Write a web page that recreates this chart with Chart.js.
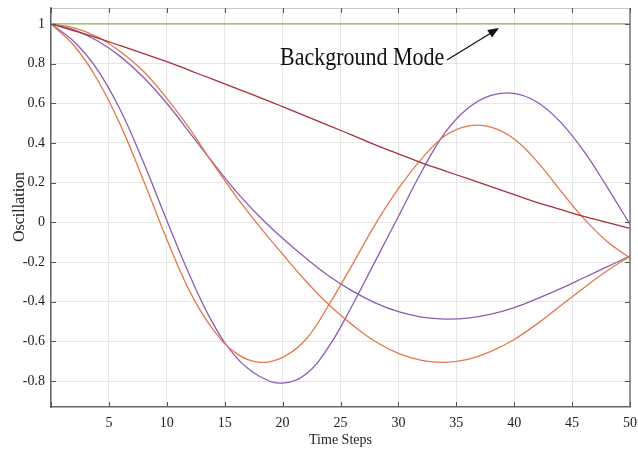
<!DOCTYPE html>
<html>
<head>
<meta charset="utf-8">
<script src="https://cdn.jsdelivr.net/npm/chart.js@4.4.1/dist/chart.umd.min.js"></script>
<style>
  html, body { margin: 0; padding: 0; background: #ffffff; }
  #chart { display: block; }
</style>
</head>
<body>
<canvas id="chart" width="638" height="449"></canvas>
<script>
const timeSteps = [0, 2, 4, 6, 8, 10, 12, 14, 16, 18, 20, 22, 24, 26, 28, 30, 32, 34, 36, 38, 40, 42, 44, 46, 48, 50];

const backgroundMode = [1, 1, 1, 1, 1, 1, 1, 1, 1, 1, 1, 1, 1, 1, 1, 1, 1, 1, 1, 1, 1, 1, 1, 1, 1, 1];
const slowRed = [1, 0.965, 0.93, 0.89, 0.85, 0.81, 0.765, 0.72, 0.675, 0.63, 0.583, 0.535, 0.487, 0.44, 0.39, 0.345, 0.30, 0.26, 0.22, 0.18, 0.14, 0.10, 0.065, 0.03, 0.0, -0.03];
const slowOrange = [1, 0.98, 0.935, 0.86, 0.76, 0.625, 0.47, 0.295, 0.13, -0.02, -0.16, -0.295, -0.415, -0.515, -0.60, -0.66, -0.695, -0.705, -0.69, -0.65, -0.59, -0.51, -0.42, -0.33, -0.245, -0.17];
const slowPurple = [1, 0.97, 0.915, 0.835, 0.73, 0.60, 0.45, 0.30, 0.155, 0.03, -0.08, -0.18, -0.27, -0.345, -0.405, -0.45, -0.477, -0.487, -0.482, -0.462, -0.429, -0.384, -0.334, -0.279, -0.224, -0.17];
const fastOrange = [1, 0.89, 0.72, 0.49, 0.21, -0.085, -0.35, -0.54, -0.66, -0.705, -0.68, -0.59, -0.415, -0.215, -0.01, 0.17, 0.32, 0.435, 0.485, 0.48, 0.42, 0.305, 0.16, 0.02, -0.095, -0.18];
const fastPurple = [1, 0.91, 0.77, 0.565, 0.30, 0.01, -0.27, -0.51, -0.68, -0.775, -0.81, -0.765, -0.625, -0.42, -0.195, 0.03, 0.255, 0.45, 0.575, 0.64, 0.65, 0.605, 0.505, 0.36, 0.18, -0.01];

const xTicks = [0, 5, 10, 15, 20, 25, 30, 35, 40, 45, 50];
const yTicks = [-0.8, -0.6, -0.4, -0.2, 0, 0.2, 0.4, 0.6, 0.8, 1];

const FONT = "'Liberation Serif', 'Times New Roman', serif";

function toPoints(values) {
  return values.map((v, i) => ({ x: timeSteps[i], y: v }));
}

function makeSeries(values, color) {
  return {
    data: toPoints(values),
    borderColor: color,
    borderWidth: 1.3,
    pointRadius: 0,
    tension: 0.4,
    fill: false
  };
}

// MATLAB style box with inward ticks, axis titles and the arrow note
const decorations = {
  id: "decorations",
  afterDraw(chart) {
    const { ctx, chartArea, scales } = chart;
    const { left, right, top, bottom } = chartArea;
    ctx.save();

    ctx.strokeStyle = "#c8c8c8";
    ctx.lineWidth = 1;
    ctx.beginPath();
    ctx.moveTo(left, top + 0.5);
    ctx.lineTo(right, top + 0.5);
    ctx.stroke();

    ctx.strokeStyle = "#777";
    ctx.lineWidth = 1.5;
    ctx.beginPath();
    ctx.moveTo(right, top);
    ctx.lineTo(right, bottom);
    ctx.stroke();

    ctx.strokeStyle = "#555";
    ctx.lineWidth = 1;
    ctx.beginPath();
    xTicks.forEach((t) => {
      const px = Math.round(scales.x.getPixelForValue(t)) + 0.5;
      ctx.moveTo(px, bottom);
      ctx.lineTo(px, bottom - 5);
      ctx.moveTo(px, top);
      ctx.lineTo(px, top + 5);
    });
    yTicks.forEach((t) => {
      const py = Math.round(scales.y.getPixelForValue(t)) + 0.5;
      ctx.moveTo(left, py);
      ctx.lineTo(left + 5, py);
      ctx.moveTo(right, py);
      ctx.lineTo(right - 5, py);
    });
    ctx.stroke();

    ctx.fillStyle = "#222";
    ctx.font = "14px " + FONT;
    ctx.textAlign = "center";
    ctx.textBaseline = "alphabetic";
    ctx.fillText("Time Steps", (left + right) / 2, 444);

    ctx.save();
    ctx.translate(24, 207);
    ctx.rotate(-Math.PI / 2);
    ctx.font = "16px " + FONT;
    ctx.fillText("Oscillation", 0, 0);
    ctx.restore();

    // the note text in the source is a little taller than wide
    ctx.save();
    ctx.translate(280, 65);
    ctx.scale(1, 1.18);
    ctx.fillStyle = "#111";
    ctx.font = "22px " + FONT;
    ctx.textAlign = "left";
    ctx.fillText("Background Mode", 0, 0);
    ctx.restore();

    const x0 = 447, y0 = 60, x1 = 499, y1 = 28;
    const ang = Math.atan2(y1 - y0, x1 - x0);
    ctx.strokeStyle = "#111";
    ctx.lineWidth = 1.3;
    ctx.beginPath();
    ctx.moveTo(x0, y0);
    ctx.lineTo(x1 - 8 * Math.cos(ang), y1 - 8 * Math.sin(ang));
    ctx.stroke();
    ctx.beginPath();
    ctx.moveTo(x1, y1);
    ctx.lineTo(x1 - 11 * Math.cos(ang) + 4.5 * Math.sin(ang), y1 - 11 * Math.sin(ang) - 4.5 * Math.cos(ang));
    ctx.lineTo(x1 - 11 * Math.cos(ang) - 4.5 * Math.sin(ang), y1 - 11 * Math.sin(ang) + 4.5 * Math.cos(ang));
    ctx.closePath();
    ctx.fillStyle = "#111";
    ctx.fill();

    ctx.restore();
  }
};

new Chart(document.getElementById("chart"), {
  type: "line",
  data: {
    datasets: [
      makeSeries(backgroundMode, "#86b84e"),
      makeSeries(slowRed, "#a8303f"),
      makeSeries(slowOrange, "#e4784a"),
      makeSeries(slowPurple, "#8d5cb2"),
      makeSeries(fastOrange, "#e4784a"),
      makeSeries(fastPurple, "#8d5cb2")
    ]
  },
  options: {
    responsive: false,
    animation: false,
    devicePixelRatio: 1,
    layout: { padding: { top: 8, right: 8, left: 0, bottom: 0 } },
    plugins: {
      legend: { display: false },
      tooltip: { enabled: false }
    },
    scales: {
      x: {
        type: "linear",
        min: 0,
        max: 50,
        afterBuildTicks: (scale) => { scale.ticks = xTicks.map((v) => ({ value: v })); },
        afterFit: (scale) => {
          scale.height = 42;
          scale.paddingLeft = 0;
          scale.paddingRight = 0;
        },
        ticks: {
          padding: 8,
          color: "#222",
          font: { family: FONT, size: 14 },
          maxRotation: 0,
          autoSkip: false,
          callback: (value) => (value === 0 ? "" : String(value))
        },
        grid: { color: "#e6e6e6", drawTicks: false },
        border: { color: "#666", width: 1.5 }
      },
      y: {
        min: -0.93,
        max: 1.08,
        afterBuildTicks: (scale) => { scale.ticks = yTicks.map((v) => ({ value: v })); },
        afterFit: (scale) => {
          scale.width = 51;
          scale.paddingTop = 0;
          scale.paddingBottom = 0;
        },
        ticks: {
          padding: 6,
          color: "#222",
          font: { family: FONT, size: 14 },
          callback: (value) => String(Math.round(value * 10) / 10)
        },
        grid: { color: "#e6e6e6", drawTicks: false },
        border: { color: "#666", width: 1.5 }
      }
    }
  },
  plugins: [decorations]
});
</script>
</body>
</html>
